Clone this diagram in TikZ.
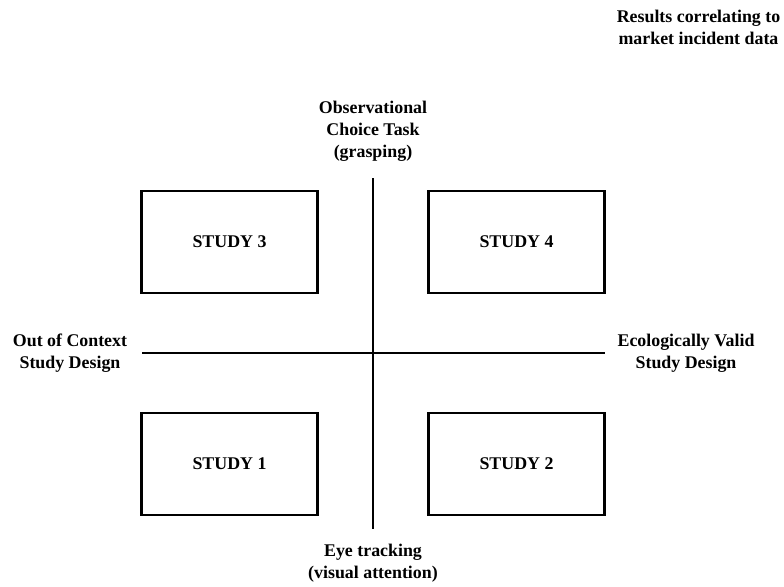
\documentclass[tikz,border=0pt]{standalone}
\usepackage{fontspec}
\setmainfont{Liberation Serif}
\begin{document}
\begin{tikzpicture}[x=0.75pt, y=-0.75pt, font=\bfseries\fontsize{13.4}{16.5}\selectfont]
    \tikzset{studybox/.style={draw, line width=2.2pt, minimum width=132pt, minimum height=76.5pt, inner sep=0pt}}
    \tikzset{axislabel/.style={align=center, inner sep=0pt}}
    \useasboundingbox (0, 0) rectangle (784, 586);
    \coordinate (top) at (373, 178);
    \coordinate (bottom) at (373, 529);
    \coordinate (left) at (142, 353);
    \coordinate (right) at (605, 353);
    \draw[line width=2.2pt] (top) -- (bottom);
    \draw[line width=2.2pt] (left) -- (right);
    \node[studybox] (study3) at (229.5, 242) {STUDY 3};
    \node[studybox] (study4) at (516.5, 242) {STUDY 4};
    \node[studybox] (study1) at (229.5, 464) {STUDY 1};
    \node[studybox] (study2) at (516.5, 464) {STUDY 2};
    \node[axislabel] (choice) at (373, 131) {Observational\\Choice Task\\(grasping)};
    \node[axislabel] (eye) at (373, 563) {Eye tracking\\(visual attention)};
    \node[axislabel] (context) at (70, 353) {Out of Context\\Study Design};
    \node[axislabel] (valid) at (686, 353) {Ecologically Valid\\Study Design};
    \node[axislabel] (results) at (698.5, 27) {Results correlating to\\market incident data};
\end{tikzpicture}
\end{document}
